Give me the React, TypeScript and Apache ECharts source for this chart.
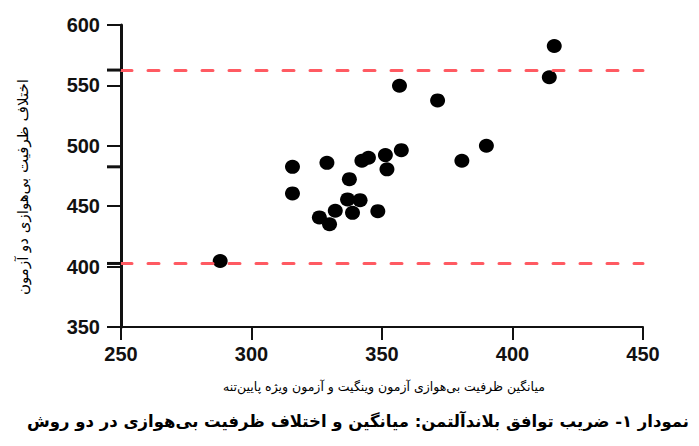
import React, { useEffect, useRef } from 'react';
import * as echarts from 'echarts';

// Bland–Altman data: mean of the two tests (x) and their difference (y)
const meanValues = [
  288.0, 315.7, 315.7, 328.9, 337.5, 336.8, 341.6, 332.1, 338.7, 326.0, 329.9, 348.4,
  342.3, 344.8, 351.3, 351.9, 357.4, 356.7, 371.3, 390.0, 380.6, 414.1, 416.0,
];
const diffValues = [
  404.6, 482.6, 460.6, 485.9, 472.4, 455.6, 455.0, 446.2, 444.5, 440.7, 435.1, 445.9,
  487.6, 490.1, 492.3, 480.5, 496.4, 549.7, 537.6, 500.0, 487.6, 556.7, 582.6,
];
const limitValues = [562.7, 402.6];
const biasValue = 482.6;
const xRange = [250, 450];
const xStep = 50;
const yRange = [350, 600];
const yStep = 50;

const xTitle = 'میانگین ظرفیت بی‌هوازی آزمون وینگیت و آزمون ویژه پایین‌تنه';
const yTitle = 'اختلاف ظرفیت بی‌هوازی دو آزمون';
const caption = 'نمودار ۱- ضریب توافق بلاندآلتمن: میانگین و اختلاف ظرفیت بی‌هوازی در دو روش';

export default function App() {
  const ref = useRef<HTMLDivElement>(null);
  useEffect(() => {
    const chart = echarts.init(ref.current!, null, { renderer: 'svg' });
    const points = meanValues.map((m, i) => [m, diffValues[i]]);
    const extraTicks = [...limitValues, biasValue].map((v) => [xRange[0], v]);
    const tickLabel = {
      color: '#111',
      fontFamily: 'Liberation Sans',
      fontWeight: 'bold' as const,
      fontSize: 20,
    };
    chart.setOption({
      animation: false,
      backgroundColor: '#ffffff',
      grid: { left: 121, right: 56, top: 25, bottom: 119 },
      xAxis: {
        type: 'value',
        min: xRange[0],
        max: xRange[1],
        interval: xStep,
        axisLine: { show: true, onZero: false, lineStyle: { color: '#111', width: 2 } },
        axisTick: { show: true, length: 13, lineStyle: { color: '#111', width: 2 } },
        axisLabel: { ...tickLabel, margin: 17 },
        splitLine: { show: false },
      },
      yAxis: {
        type: 'value',
        min: yRange[0],
        max: yRange[1],
        interval: yStep,
        axisLine: { show: true, lineStyle: { color: '#111', width: 3 } },
        axisTick: { show: true, length: 14, lineStyle: { color: '#111', width: 2 } },
        axisLabel: { ...tickLabel, margin: 21 },
        splitLine: { show: false },
      },
      series: [
        {
          type: 'scatter',
          data: points,
          symbol: 'circle',
          symbolSize: [15, 14],
          itemStyle: { color: '#000', opacity: 1 },
          z: 4,
          markLine: {
            silent: true,
            symbol: ['none', 'none'],
            label: { show: false },
            lineStyle: { color: '#ff5a62', width: 3, type: [11, 16], cap: 'round', opacity: 1 },
            data: limitValues.map((v) => ({ yAxis: v })),
          },
        },
        {
          type: 'scatter',
          data: extraTicks,
          symbol: 'rect',
          symbolSize: [14, 3],
          symbolOffset: [-7, 0],
          clip: false,
          silent: true,
          itemStyle: { color: '#111', opacity: 1 },
          z: 5,
        },
      ],
      graphic: [
        {
          type: 'text',
          x: 23,
          y: 187,
          rotation: Math.PI / 2,
          style: {
            text: yTitle,
            fontFamily: 'DejaVu Sans',
            fontSize: 15,
            fill: '#000',
            align: 'center',
            verticalAlign: 'middle',
          },
        },
        {
          type: 'text',
          x: 384,
          y: 386,
          style: {
            text: xTitle,
            fontFamily: 'DejaVu Sans',
            fontSize: 12.5,
            fill: '#000',
            align: 'center',
            verticalAlign: 'middle',
          },
        },
        {
          type: 'text',
          x: 358,
          y: 421,
          style: {
            text: caption,
            fontFamily: 'DejaVu Sans',
            fontSize: 16.5,
            fontWeight: 'bold',
            fill: '#000',
            align: 'center',
            verticalAlign: 'middle',
          },
        },
      ],
    });
    return () => chart.dispose();
  }, []);
  return (
    <div
      ref={ref}
      style={{ position: 'fixed', left: 0, top: 0, width: 699, height: 446 }}
    />
  );
}
